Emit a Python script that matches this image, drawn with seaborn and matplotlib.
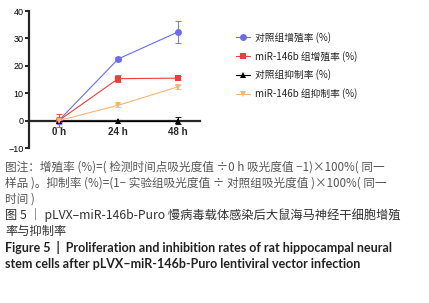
import seaborn as sns
import matplotlib.pyplot as plt
import pandas as pd
import numpy as np

sns.set_theme(style="ticks")
plt.rcParams['font.family'] = ['Noto Sans CJK SC', 'DejaVu Sans']
plt.rcParams['axes.unicode_minus'] = True

# data
hours = [0, 24, 48]
hour_labels = ['0 h', '24 h', '48 h']
series = ['对照组增殖率 (%)', 'miR-146b 组增殖率 (%)', '对照组抑制率 (%)', 'miR-146b 组抑制率 (%)']
ctrl_prolif = [0.0, 22.5, 32.3]
ctrl_prolif_err = [1.4, 0.6, 3.9]
mir_prolif = [0.0, 15.3, 15.5]
mir_prolif_err = [2.4, 1.2, 0.8]
ctrl_inhib = [0.0, 0.0, 0.0]
ctrl_inhib_err = [0.0, 0.3, 1.4]
mir_inhib = [0.0, 5.6, 12.3]
mir_inhib_err = [0.0, 0.5, 0.8]

values = [ctrl_prolif, mir_prolif, ctrl_inhib, mir_inhib]
errors = [ctrl_prolif_err, mir_prolif_err, ctrl_inhib_err, mir_inhib_err]
df = pd.DataFrame({
    'time': hours * 4,
    'rate': sum(values, []),
    'group': [s for s in series for _ in hours],
})

colors = ['#6b6bf5', '#f23c3c', '#000000', '#f8b676']
markers = ['o', 's', '^', 'v']
palette = dict(zip(series, colors))

fig = plt.figure(figsize=(4.29, 3.03), dpi=100)
ax = fig.add_axes([29 / 429, 1 - 148 / 303, 171 / 429, 137 / 303])

# error bars first, then lines and markers on top
for vals, errs, c in zip(values, errors, colors):
    ax.errorbar(hours, vals, yerr=errs, fmt='none', ecolor=c, elinewidth=0.8,
                capsize=2.5, capthick=0.8, alpha=0.85, zorder=2)

sns.lineplot(data=df, x='time', y='rate', hue='group', style='group',
             palette=palette, markers=dict(zip(series, markers)), dashes=False,
             markersize=5, markeredgewidth=0, linewidth=0.8, ax=ax, zorder=3)

# spine position first: moving it resets the tick objects
ax.spines['top'].set_visible(False)
ax.spines['right'].set_visible(False)
ax.spines['bottom'].set_position(('data', 0))
ax.spines['left'].set_linewidth(1.6)
ax.spines['bottom'].set_linewidth(1.6)

ax.set_xlim(-12, 57)
ax.set_ylim(-10, 40)
ax.set_yticks([-10, 0, 10, 20, 30, 40])
ax.set_yticklabels(['−10', '0', '10', '20', '30', '40'])
ax.set_xticks(hours)
ax.set_xticklabels(hour_labels)
ax.set_xlabel('')
ax.set_ylabel('')
ax.tick_params(axis='y', length=3, width=1.2, pad=1, colors='black', labelsize=6.5)
ax.tick_params(axis='x', length=3, width=1.2, pad=3, direction='inout', labelsize=7)
for lab in ax.get_yticklabels():
    lab.set_family(['Liberation Sans', 'DejaVu Sans'])
for lab in ax.get_xticklabels():
    lab.set_family(['Liberation Sans', 'DejaVu Sans'])
    lab.set_fontweight('bold')
ax.patch.set_alpha(0)

leg = ax.legend(loc='upper left', bbox_to_anchor=(236 / 429, 1 - 32 / 303),
                bbox_transform=fig.transFigure, frameon=False,
                fontsize=7, handlelength=1.4, labelspacing=0.8, handletextpad=0.6,
                borderaxespad=0, borderpad=0)
for t in leg.get_texts():
    t.set_color('#222222')

note_font = ['Noto Sans CJK SC', 'DejaVu Sans']
fig.text(0.012, 1 - 167 / 303, '图注：增殖率 (%)=( 检测时间点吸光度值 ÷0 h 吸光度值 −1)×100%( 同一',
         fontsize=8.4, color='#555555', va='center', family=note_font)
fig.text(0.012, 1 - 183 / 303, '样品 )。抑制率 (%)=(1− 实验组吸光度值 ÷ 对照组吸光度值 )×100%( 同一',
         fontsize=8.4, color='#555555', va='center', family=note_font)
fig.text(0.012, 1 - 199 / 303, '时间 )',
         fontsize=8.4, color='#555555', va='center', family=note_font)
fig.text(0.012, 1 - 215 / 303, '图 5 ｜ pLVX–miR-146b-Puro 慢病毒载体感染后大鼠海马神经干细胞增殖',
         fontsize=8.8, color='#333333', va='center', family=note_font)
fig.text(0.012, 1 - 231 / 303, '率与抑制率',
         fontsize=8.8, color='#333333', va='center', family=note_font)
fig.text(0.012, 1 - 248 / 303, 'Figure 5  |  Proliferation and inhibition rates of rat hippocampal neural',
         fontsize=9.0, fontweight='bold', color='#222222', va='center', family=['Lato', 'DejaVu Sans'])
fig.text(0.012, 1 - 264 / 303, 'stem cells after pLVX–miR-146b-Puro lentiviral vector infection',
         fontsize=9.0, fontweight='bold', color='#222222', va='center', family=['Lato', 'DejaVu Sans'])

fig.savefig('out.png', dpi=100)
